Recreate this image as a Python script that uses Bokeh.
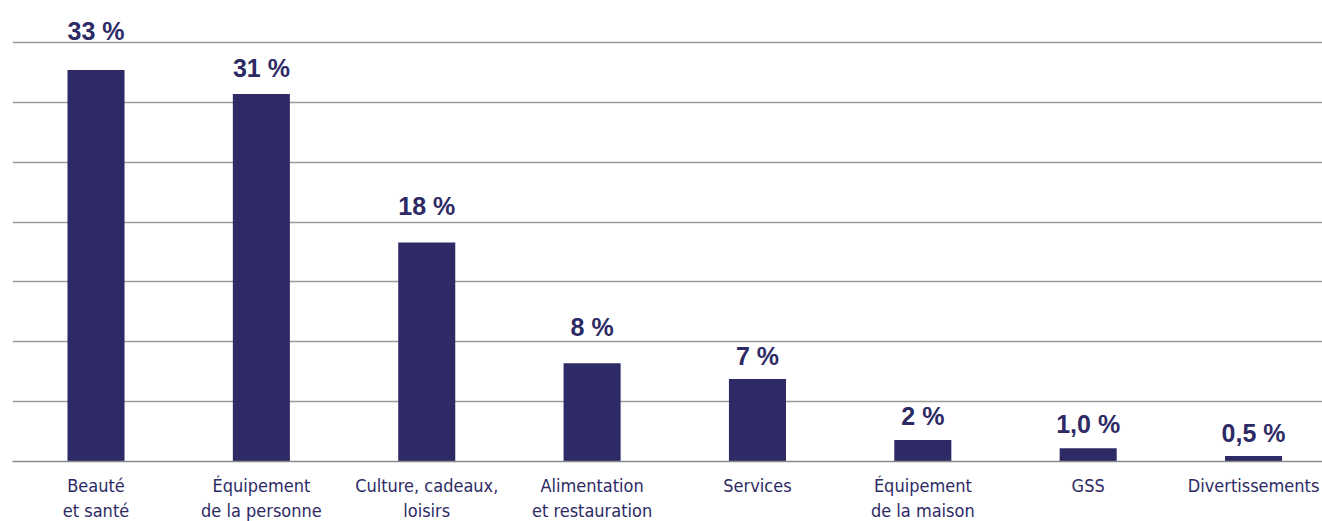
from bokeh.plotting import figure
from bokeh.models import Range1d, FixedTicker, ColumnDataSource
from bokeh.core.properties import value
from bokeh.embed import file_html
from bokeh.resources import INLINE

categories = ["Beauté\net santé", "Équipement\nde la personne", "Culture, cadeaux,\nloisirs",
              "Alimentation\net restauration", "Services", "Équipement\nde la maison",
              "GSS", "Divertissements"]
values = [32.7, 30.7, 18.3, 8.2, 6.9, 1.8, 1.1, 0.45]
value_labels = ["33 %", "31 %", "18 %", "8 %", "7 %", "2 %", "1,0 %", "0,5 %"]
grid_ticks = [0, 5, 10, 15, 20, 25, 30, 35]

# style: vertical gap (px) between bar top and its label
label_gaps = [39, 25.5, 36, 36, 22.5, 24, 24, 23]

NAVY = "#2d2a65"
idx = list(range(len(categories)))

src = ColumnDataSource(dict(x=idx, top=values, lab=value_labels,
                            off=[-g for g in label_gaps]))

p = figure(frame_width=1310, frame_height=453, output_backend="svg",
           toolbar_location=None, x_range=Range1d(-0.505, 7.417),
           y_range=Range1d(0, 37.84), min_border_left=12, min_border_right=0,
           min_border_top=8, min_border_bottom=60, outline_line_color=None)

p.vbar(x="x", top="top", width=0.345, source=src, fill_color=NAVY, line_color=None)
p.text(x="x", y="top", text="lab", source=src, y_offset="off",
       text_align="center", text_baseline="alphabetic",
       text_font=value("Liberation Sans"), text_font_style="bold",
       text_font_size="25px", text_color=NAVY)

p.yaxis.visible = False
p.ygrid.ticker = FixedTicker(ticks=grid_ticks)
p.ygrid.grid_line_color = "#9a9a9a"
p.ygrid.grid_line_width = 1.3
p.xgrid.visible = False

xa = p.xaxis[0]
xa.ticker = FixedTicker(ticks=idx)
xa.major_label_overrides = {i: c for i, c in zip(idx, categories)}
xa.major_tick_line_color = None
xa.minor_tick_line_color = None
xa.axis_line_color = "#8a8a8a"
xa.axis_line_width = 1.6
xa.major_label_standoff = 7
xa.major_label_text_font = "DejaVu Sans Condensed"
xa.major_label_text_font_size = "18px"
xa.major_label_text_color = NAVY

open("out.html", "w").write(file_html(p, INLINE))
